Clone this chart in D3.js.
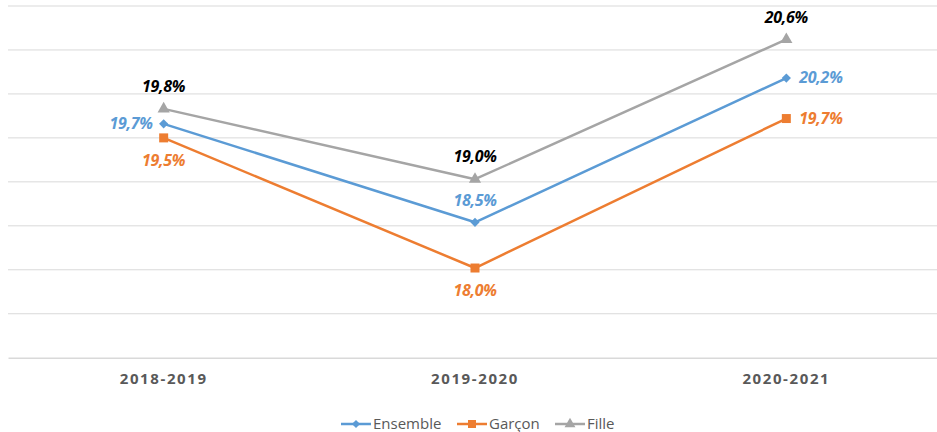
<!DOCTYPE html>
<html>
<head>
<meta charset="utf-8">
<script src="https://cdn.jsdelivr.net/npm/d3@7"></script>
<style>
  html, body { margin: 0; padding: 0; background: #fff; }
  svg { display: block; }
</style>
</head>
<body>
<svg id="chart" width="937" height="432"></svg>
<script>
const categories = ["2018-2019", "2019-2020", "2020-2021"];
const ensemble = [19.66, 18.54, 20.18];
const garcon = [19.50, 18.02, 19.72];
const fille = [19.83, 19.03, 20.62];
const yTicks = [17, 17.5, 18, 18.5, 19, 19.5, 20, 20.5, 21];
const seriesNames = ["Ensemble", "Garçon", "Fille"];

const series = [
  { name: seriesNames[0], values: ensemble, color: "#5b9bd5", labelColor: "#5b9bd5", symbol: d3.symbolSquare, rot: 45, size: 42, pos: ["left", "top", "right"] },
  { name: seriesNames[1], values: garcon, color: "#ed7d31", labelColor: "#ed7d31", symbol: d3.symbolSquare, rot: 0, size: 81, pos: ["bottom", "bottom", "right"] },
  { name: seriesNames[2], values: fille, color: "#a5a5a5", labelColor: "#000000", symbol: d3.symbolTriangle, rot: 0, size: 64, pos: ["top", "top", "top"] }
];

const svg = d3.select("#chart");
const pLeft = 8, pRight = 942, pTop = 6, pBottom = 357.7;

const x = d3.scaleBand().domain(categories).range([pLeft, pRight]);
const y = d3.scaleLinear().domain([17, 21]).range([pBottom, pTop]);
const cx = c => x(c) + x.bandwidth() / 2;

// gridlines
svg.append("g").selectAll("line").data(yTicks.slice(1)).join("line")
  .attr("x1", pLeft).attr("x2", pRight)
  .attr("y1", d => y(d)).attr("y2", d => y(d))
  .attr("stroke", "#d9d9d9").attr("stroke-width", 1);

// x axis
const xAxis = svg.append("g").attr("transform", `translate(0,${pBottom})`)
  .call(d3.axisBottom(x).tickSize(0).tickPadding(16));
xAxis.select(".domain").attr("stroke", "#d9d9d9").attr("stroke-width", 1.5);
xAxis.selectAll("text")
  .attr("font-family", "'Open Sans', sans-serif")
  .attr("font-size", 15).attr("font-weight", "bold")
  .attr("letter-spacing", "1.6px")
  .attr("fill", "#595959");

const line = d3.line().x((d, i) => cx(categories[i])).y(d => y(d));

series.slice().reverse().forEach(s => {
  svg.append("path").datum(s.values)
    .attr("d", line).attr("fill", "none")
    .attr("stroke", s.color).attr("stroke-width", 2.5)
    .attr("stroke-linejoin", "round");
  svg.append("g").selectAll("path").data(s.values).join("path")
    .attr("transform", (d, i) => `translate(${cx(categories[i])},${y(d)}) rotate(${s.rot})`)
    .attr("d", d3.symbol().type(s.symbol).size(s.size))
    .attr("fill", s.color);
});

// data labels
const fmt = v => v.toFixed(1).replace(".", ",") + "%";
series.forEach(s => {
  svg.append("g").selectAll("text").data(s.values).join("text")
    .attr("x", (d, i) => {
      const p = s.pos[i], X = cx(categories[i]);
      return p === "left" ? X - 11 : p === "right" ? X + 13 : X;
    })
    .attr("y", (d, i) => {
      const p = s.pos[i], Y = y(d);
      return p === "top" ? Y - 21 : p === "bottom" ? Y + 24 : Y + 1;
    })
    .attr("text-anchor", (d, i) => s.pos[i] === "left" ? "end" : s.pos[i] === "right" ? "start" : "middle")
    .attr("dominant-baseline", "middle")
    .attr("font-family", "'Open Sans', sans-serif")
    .attr("font-size", 16).attr("font-weight", "bold").attr("font-style", "italic")
    .attr("letter-spacing", "-0.3px")
    .attr("fill", s.labelColor)
    .text(d => fmt(d));
});

// legend
const legendX = [341, 457, 555];
const legend = svg.append("g").selectAll("g").data(series).join("g")
  .attr("transform", (d, i) => `translate(${legendX[i]},424)`);
legend.append("line").attr("x1", 0).attr("x2", 30).attr("y1", 0).attr("y2", 0)
  .attr("stroke", d => d.color).attr("stroke-width", 2.5);
legend.append("path").attr("transform", d => `translate(15,0) rotate(${d.rot})`)
  .attr("d", d => d3.symbol().type(d.symbol).size(d.size * 0.8)())
  .attr("fill", d => d.color);
legend.append("text").attr("x", 32).attr("y", 1)
  .attr("dominant-baseline", "middle")
  .attr("font-family", "'Open Sans', sans-serif").attr("font-size", 15)
  .attr("fill", "#595959")
  .text(d => d.name);
</script>
</body>
</html>
